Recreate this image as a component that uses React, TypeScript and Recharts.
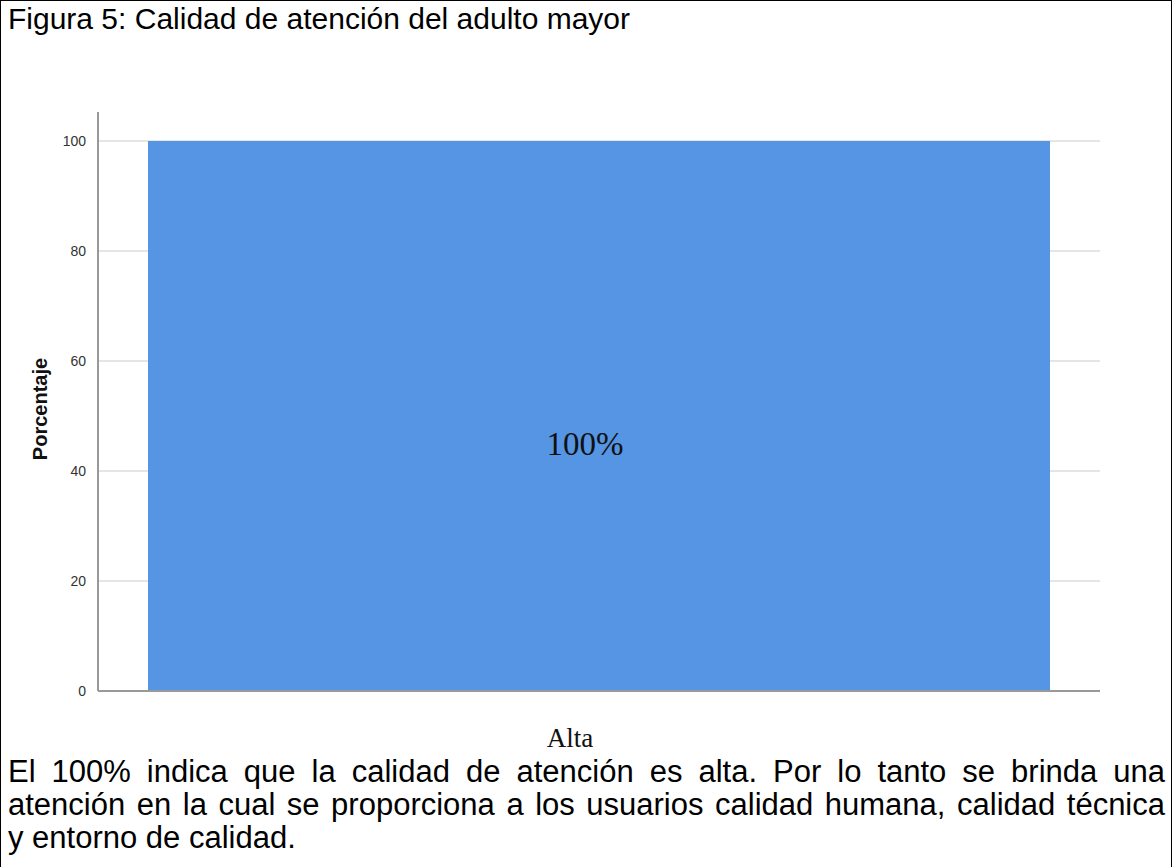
import React from "react";
import { BarChart, Bar, XAxis, YAxis, CartesianGrid, LabelList, Label } from "recharts";

const categories = ["Alta"];
const percentages = [100];
const yTicks = [0, 20, 40, 60, 80, 100];
const Y_MAX = 105.27;

const captionLines = [
  "El 100% indica que la calidad de atención es alta. Por lo tanto se brinda una",
  "atención en la cual se proporciona a los usuarios calidad humana, calidad técnica",
  "y entorno de calidad.",
];

const data = categories.map((c, i) => ({ category: c, value: percentages[i] }));

const BAR_COLOR = "#5595e4";

const XTick = (props: any) => {
  const { x, payload } = props;
  return (
    <text x={x - 29} y={747} textAnchor="middle" fontFamily="'Liberation Serif', serif" fontSize={27} fill="#111">
      {payload.value}
    </text>
  );
};

const renderValueLabel = (props: any) => {
  const { x, y, width, height, value } = props;
  return (
    <text
      x={x + width / 2 - 14}
      y={y + height / 2 + 39}
      textAnchor="middle"
      fontFamily="'Liberation Serif', serif"
      fontSize={33}
      fill="#111"
    >
      {value}%
    </text>
  );
};

// grid only at the tick values (no line at the top of the plot)
const gridRows = ({ offset }: any) =>
  yTicks.map((t) => offset.top + offset.height * (1 - t / Y_MAX));

export default function App() {
  return (
    <div style={{ position: "relative", width: 1173, height: 867, overflow: "hidden", background: "#fff", fontFamily: "'Liberation Sans', Arial, sans-serif" }}>
      <style>{`body{margin:0}`}</style>
      <div style={{ position: "absolute", left: 0, top: 0, width: 1170, height: 900, borderLeft: "1.5px solid #000", borderTop: "1.5px solid #000", borderRight: "1.5px solid #000" }} />
      <div style={{ position: "absolute", left: 8, top: 2, fontSize: 30, lineHeight: "33px", color: "#000" }}>
        Figura 5: Calidad de atención del adulto mayor
      </div>
      <div style={{ position: "absolute", left: 0, top: 0 }}>
        <BarChart width={1173} height={867} data={data} margin={{ top: 112, right: 73, bottom: 0, left: 0 }} barCategoryGap={50}>
          <CartesianGrid
            vertical={false}
            stroke="#dcdcdc"
            strokeWidth={1.5}
            horizontalCoordinatesGenerator={gridRows}
          />
          <XAxis
            dataKey="category"
            axisLine={{ stroke: "#999", strokeWidth: 2 }}
            tickLine={false}
            tick={<XTick />}
            height={176}
          />
          <YAxis
            domain={[0, Y_MAX]}
            ticks={yTicks}
            width={98}
            axisLine={{ stroke: "#999", strokeWidth: 2 }}
            tickLine={false}
            tick={{ fontSize: 14, fill: "#333", fontFamily: "'Liberation Sans', Arial, sans-serif" }}
            tickMargin={6}
          >
            <Label
              content={() => {
                const cy = 409;
                return (
                  <text x={47} y={cy} transform={`rotate(-90 47 ${cy})`} textAnchor="middle" fontSize={20} fontWeight="bold" fill="#111" fontFamily="'Liberation Sans', Arial, sans-serif">
                    Porcentaje
                  </text>
                );
              }}
            />
          </YAxis>
          <Bar dataKey="value" fill={BAR_COLOR} isAnimationActive={false}>
            <LabelList dataKey="value" content={renderValueLabel} />
          </Bar>
        </BarChart>
      </div>
      <div style={{ position: "absolute", left: 8, top: 755, width: 1157, fontSize: 31, lineHeight: "33px", color: "#000" }}>
        {captionLines.map((line, i) => (
          <div
            key={i}
            style={{
              whiteSpace: "nowrap",
              textAlign: "justify",
              textAlignLast: i < captionLines.length - 1 ? "justify" : "left",
            }}
          >
            {line}
          </div>
        ))}
      </div>
    </div>
  );
}
